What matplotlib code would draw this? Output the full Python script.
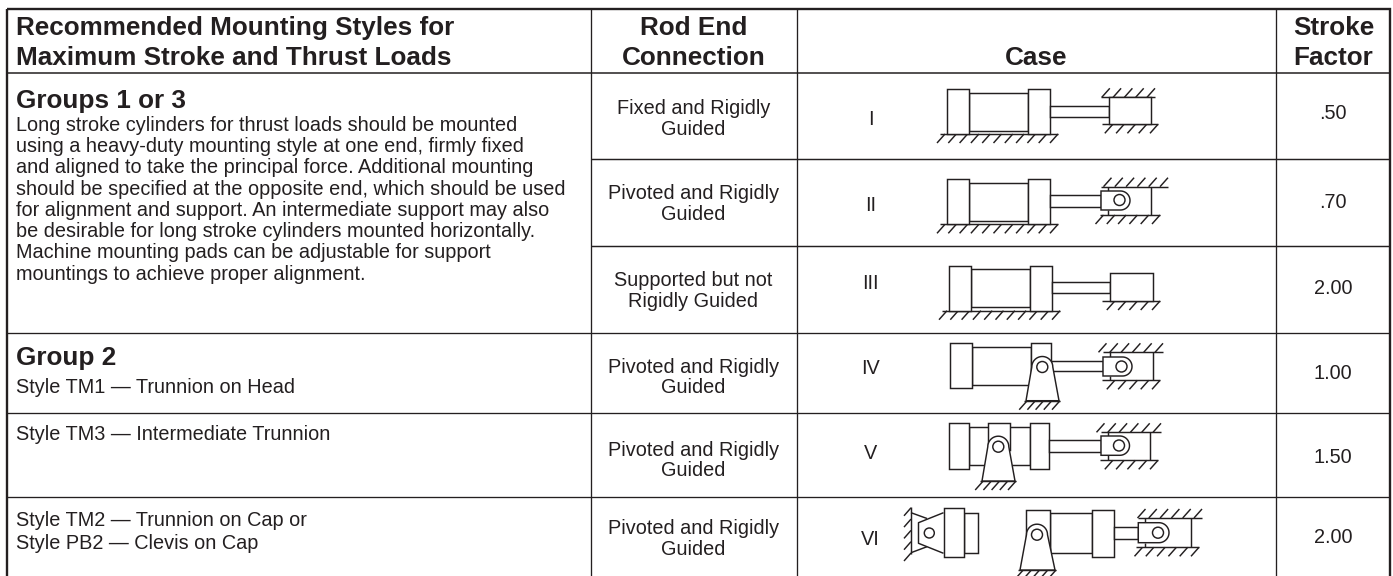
import matplotlib
matplotlib.use("Agg")
from matplotlib import pyplot as plt
from matplotlib.patches import Rectangle, Circle
from math import cos, sin, pi

plt.rcParams['font.family'] = ['Liberation Sans', 'DejaVu Sans']

# Table contents
header_mounting = ["Recommended Mounting Styles for", "Maximum Stroke and Thrust Loads"]
header_rod = ["Rod End", "Connection"]
header_case = ["Case"]
header_factor = ["Stroke", "Factor"]

rod_end = [["Fixed and Rigidly", "Guided"], ["Pivoted and Rigidly", "Guided"],
           ["Supported but not", "Rigidly Guided"], ["Pivoted and Rigidly", "Guided"],
           ["Pivoted and Rigidly", "Guided"], ["Pivoted and Rigidly", "Guided"]]
cases = ["I", "II", "III", "IV", "V", "VI"]
factors = [".50", ".70", "2.00", "1.00", "1.50", "2.00"]

group_a_title = "Groups 1 or 3"
group_a_text = ["Long stroke cylinders for thrust loads should be mounted",
                "using a heavy-duty mounting style at one end, firmly fixed",
                "and aligned to take the principal force. Additional mounting",
                "should be specified at the opposite end, which should be used",
                "for alignment and support. An intermediate support may also",
                "be desirable for long stroke cylinders mounted horizontally.",
                "Machine mounting pads can be adjustable for support",
                "mountings to achieve proper alignment."]
group_b_title = "Group 2"
style_tm1 = ["Style TM1 \u2014 Trunnion on Head"]
style_tm3 = ["Style TM3 \u2014 Intermediate Trunnion"]
style_tm2 = ["Style TM2 \u2014 Trunnion on Cap or", "Style PB2 \u2014 Clevis on Cap"]

# Table grid, in pixels
left, right, top, bottom = 7, 1390, 9, 578
col_lines = [590.7, 797.3, 1275.5]
full_rows = [333, 413, 497]
short_rows = [159, 246]
head_row = 72.5
BLACK = "#231f20"
LW = 1.05
BODY = 14.3
HEAD = 18.8

# Text baselines per row
rod_y = [114, 199.3, 286, 372.7, 455.7, 534]
case_y = [125, 211, 289, 374, 459, 545]
factor_y = [119.3, 208.3, 294.3, 379.3, 463.3, 543.3]

fig = plt.figure(figsize=(13.93, 5.76), dpi=100)
ax = fig.add_axes([0, 0, 1, 1])
ax.set_xlim(0, 1393)
ax.set_ylim(576, 0)
ax.axis("off")


def put(x, y, lines, size=BODY, bold=False, ha="left", pitch=21.3):
    # one text per line so the baselines land where they should
    for i, s in enumerate(lines):
        ax.text(x, y + i * pitch, s, ha=ha, va="baseline", fontsize=size, color=BLACK,
                fontweight="bold" if bold else "normal")


def line(xs, ys, lw=LW):
    ax.plot(xs, ys, color=BLACK, lw=lw, solid_capstyle="butt", zorder=2)


def rect(x0, y0, x1, y1):
    ax.add_patch(Rectangle((x0, y0), x1 - x0, y1 - y0, fc="white", ec=BLACK, lw=LW, zorder=3))


def circle(x, y, r, z=5):
    ax.add_patch(Circle((x, y), r, fc="white", ec=BLACK, lw=LW, zorder=z))


def hatch(x0, x1, y, up=False, step=11.3):
    # ground line with short diagonal ticks
    line([x0, x1], [y, y])
    x = x1
    while x > x0 + 2:
        if up:
            line([x - 8, x], [y, y - 9])
        else:
            line([x, x - 8], [y, y + 9])
        x -= step


def cylinder(x0, x1, x2, x3, y0, y1, inset=3.4):
    # cap, tube, head
    rect(x1, y0 + inset, x2, y1 - inset)
    rect(x0, y0, x1, y1)
    rect(x2, y0, x3, y1)


def clevis(x0, x1, y0, y1, cx, cy):
    # rod eye with a rounded right end
    r = (y1 - y0) / 2
    th = [i * pi / 30 - pi / 2 for i in range(31)]
    xs = [x0] + [x1 - r + r * cos(t) for t in th] + [x0]
    ys = [y0] + [(y0 + y1) / 2 + r * sin(t) for t in th] + [y1]
    ax.fill(xs, ys, fc="white", ec=BLACK, lw=LW, zorder=4)
    circle(cx, cy, 5.5)


def trunnion(cx, cy, r, x0, x1, y):
    # pivot bracket standing on the ground
    th = [pi + i * pi / 30 for i in range(31)]
    xs = [x0] + [cx + r * cos(t) for t in th] + [x1]
    ys = [y] + [cy + r * sin(t) for t in th] + [y]
    ax.fill(xs, ys, fc="white", ec=BLACK, lw=LW, zorder=4)
    hatch(x0 - 2, x1 + 1, y, step=8.2)
    circle(cx, cy, 5.5)


def guided_clevis(rod_x, eye_x1, y0, y1, cx, cy, top_y, bot_y, wall_x, tx1, bx0, bx1):
    clevis(rod_x, eye_x1, y0, y1, cx, cy)
    post = rod_x + 7
    line([post, post], [top_y, y0])
    line([post, post], [y1, bot_y])
    line([wall_x, wall_x], [top_y, bot_y])
    hatch(rod_x, tx1, top_y, up=True)
    hatch(bx0, bx1, bot_y)


# Grid
for y in full_rows:
    line([left, right], [y, y], lw=0.95)
for y in short_rows:
    line([col_lines[0], right], [y, y], lw=1.05)
line([left, right], [head_row, head_row], lw=1.1)
for x in col_lines:
    line([x, x], [top, bottom], lw=0.95)
ax.add_patch(Rectangle((left, top), right - left, bottom - top, fc="none", ec=BLACK, lw=1.7))

# Header
put(16, 35, header_mounting, HEAD, True, pitch=30)
put(694, 35, header_rod, HEAD, True, "center", pitch=30)
put(1036, 65, header_case, HEAD, True, "center")
put(1333.5, 35, header_factor, HEAD, True, "center", pitch=30)

# Left column
put(16, 108, [group_a_title], HEAD, True)
put(16, 130.7, group_a_text)
put(16, 365, [group_b_title], HEAD, True)
put(16, 393.3, style_tm1)
put(16, 440, style_tm3)
put(16, 526, style_tm2, pitch=23.3)

# Rod end, case number, factor for each row
for i in range(6):
    put(693.5, rod_y[i], rod_end[i], ha="center", pitch=20.7)
    put(870.5, case_y[i], [cases[i]], ha="center")
    put(1333, factor_y[i], [factors[i]], ha="center")

# Case I
cylinder(947, 969, 1028, 1050, 89.3, 134)
hatch(940, 1058, 134)
rect(1050, 105.7, 1109, 116.7)
rect(1109, 97.3, 1151, 124.3)
hatch(1101, 1155, 97.3, up=True)
hatch(1102, 1158, 124.3)

# Case II
cylinder(947, 969, 1028, 1050, 179.3, 224.3)
hatch(940, 1058, 224.3)
rect(1050, 195.3, 1101, 206.7)
guided_clevis(1101, 1130, 191, 210, 1119.5, 200, 186.7, 215, 1151, 1168, 1100, 1160)

# Case III
cylinder(949, 971, 1030, 1052, 265.7, 310.7)
hatch(942, 1060, 310.7)
rect(1052, 281.7, 1110, 292.7)
rect(1110, 273.3, 1153, 301)
hatch(1102, 1160, 301)

# Case IV
cylinder(950, 972, 1031, 1051, 343.3, 388.3)
rect(1051, 361, 1103, 371)
trunnion(1042.3, 367, 10.5, 1026, 1059, 400.7)
guided_clevis(1103, 1132, 357, 376, 1121.5, 366.5, 352.3, 380.3, 1152.5, 1163, 1102, 1160)

# Case V
cylinder(949, 969, 1030, 1049, 423.3, 468.7)
rect(988, 423.3, 1010, 450)
rect(1049, 440, 1101, 452)
trunnion(998.3, 446.7, 10.5, 982, 1015, 481)
guided_clevis(1101, 1129.5, 436, 455.3, 1119, 445.5, 432.3, 460.3, 1150, 1161, 1100, 1158)

# Case VI, left part
line([911, 911], [506.7, 554])
x = 554
while x > 508:
    line([904, 911], [x + 7, x - 1])
    x -= 11.3
rect(964, 512.7, 978.3, 553.3)
rect(944, 508.3, 964, 557.3)
line([943.5, 918.5, 918.5, 943.5], [512.7, 522.7, 543.3, 553.3])
line([911, 927], [512.7, 518.5])
line([911, 927], [552.7, 546.7])
circle(929.3, 533, 5)

# Case VI, right part
rect(1050, 513.3, 1092, 553.3)
rect(1026, 510, 1050, 557)
rect(1092, 510, 1114.3, 557.3)
rect(1114.3, 527, 1138.3, 538.7)
trunnion(1037, 534.7, 10.5, 1020, 1055, 570)
guided_clevis(1138.3, 1169, 522.7, 542.7, 1158, 532.7, 518, 547.3, 1190.7, 1202, 1136, 1199)

fig.savefig("out.png", dpi=100)
